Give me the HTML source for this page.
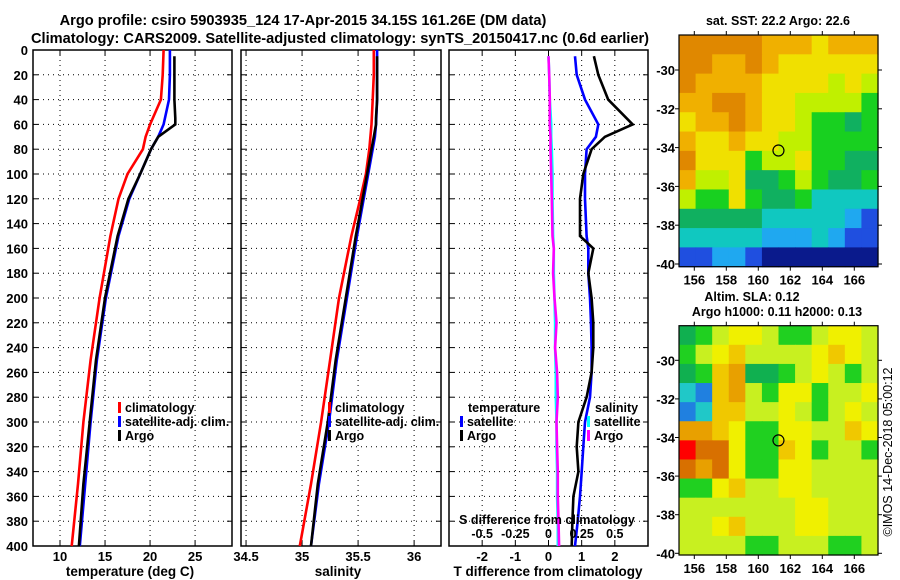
<!DOCTYPE html>
<html><head><meta charset="utf-8">
<style>
html,body{margin:0;padding:0;background:#fff;}
svg{display:block;font-family:"Liberation Sans",sans-serif;font-weight:bold;}
</style></head>
<body>
<svg id="c" width="900" height="580" viewBox="0 0 900 580"></svg>
<script>
// ---------- data ----------
const depthTicks=[0,20,40,60,80,100,120,140,160,180,200,220,240,260,280,300,320,340,360,380,400];
const tTicks=[10,15,20,25];
const sTicks=[34.5,35,35.5,36];
const dtTicks=[-2,-1,0,1,2];
const dsTicks=[-0.5,-0.25,0,0.25,0.5];
const argoDepth=[5,20,40,55,60,70,80,100,120,150,200,250,300,350,400];
const argoT=[22.7,22.7,22.7,22.8,22.8,20.9,20.1,18.9,17.6,16.4,15.0,14.0,13.3,12.6,12.1];
const argoS=[35.67,35.67,35.67,35.66,35.66,35.64,35.62,35.58,35.54,35.48,35.39,35.30,35.23,35.14,35.08];
const climDepth=[0,20,40,60,70,80,100,120,150,200,250,300,350,400];
const climT=[21.5,21.4,21.2,20.0,19.5,19.2,17.5,16.5,15.6,14.4,13.4,12.6,12.0,11.3];
const climS=[35.64,35.64,35.63,35.62,35.61,35.60,35.57,35.52,35.44,35.33,35.25,35.17,35.08,34.98];
const satT=[22.2,22.2,22.1,21.5,20.9,20.1,18.9,17.7,16.5,15.1,14.1,13.4,12.8,12.2];
const satS=[35.67,35.67,35.67,35.66,35.65,35.63,35.59,35.55,35.49,35.40,35.31,35.24,35.15,35.08];
const dDepth=[5,20,40,60,70,80,100,120,150,160,180,200,220,240,260,280,300,320,340,360,380,400];
const argoDT=[1.37,1.5,1.8,2.54,1.7,1.3,1.05,0.95,0.95,1.35,1.2,1.3,1.35,1.35,1.3,1.15,0.9,0.85,0.9,0.75,0.72,0.7];
const satDT=[0.8,0.85,1.1,1.5,1.43,1.15,1.1,1.1,1.15,1.2,1.2,1.25,1.28,1.3,1.3,1.25,1.1,1.05,1.0,0.95,0.88,0.8];
const satDS=[0,0.005,0.01,0.02,0.02,0.025,0.03,0.03,0.035,0.04,0.04,0.045,0.05,0.05,0.055,0.055,0.06,0.06,0.065,0.065,0.07,0.07];
const argoDS=[0,0.005,0.01,0.01,0.015,0.015,0.02,0.025,0.03,0.04,0.035,0.045,0.06,0.05,0.065,0.07,0.06,0.065,0.07,0.07,0.075,0.08];
const lonTicks=[156,158,160,162,164,166];
const latTicks=[-30,-32,-34,-36,-38,-40];
const sstGrid=[
[9,9,9,9,9,8,8,8,7,8,8,8],
[9,9,8,8,9,8,7,7,7,7,7,7],
[9,8,8,8,8,7,7,7,7,6,7,6],
[8,8,9,9,8,7,7,6,6,6,6,5],
[7,8,8,9,8,7,7,6,5,5,4,5],
[8,7,7,8,7,7,6,6,5,5,5,5],
[9,7,7,7,5,6,6,7,5,5,4,4],
[8,6,6,7,4,4,5,6,5,4,4,5],
[6,5,5,7,5,4,4,5,3,3,3,3],
[4,4,4,4,4,3,3,3,3,3,2,1],
[3,3,3,3,3,2,2,2,3,2,1,1],
[1,1,2,2,1,0,0,0,0,0,0,0]];
const slaGrid=[
[2,3,4,5,5,4,3,3,4,5,5,4],
[3,4,5,6,4,4,4,4,5,6,5,4],
[2,3,6,7,2,2,3,4,5,4,3,4],
[1,0,6,7,4,3,5,5,3,4,4,5],
[0,1,6,6,4,4,5,4,3,4,5,4],
[7,7,6,5,3,3,5,5,4,4,6,5],
[9,8,8,5,3,3,6,5,3,4,4,3],
[8,7,8,5,3,3,5,5,4,4,4,4],
[3,3,5,6,4,4,5,5,4,4,4,4],
[4,4,4,4,4,4,4,5,5,4,4,4],
[4,4,5,6,4,4,4,5,5,4,4,4],
[4,4,4,4,3,3,4,4,4,3,3,4]];
const sstColors=["#0a1a8c","#1f4fe0","#1fa8f0","#10c8c0","#10b060","#18d020","#c0f000","#f0e000","#f0b000","#e08800"];
const slaColors=["#2080e0","#20c8c8","#10b050","#20d020","#c8f020","#f0f000","#f0c800","#e8a000","#d87000","#ff0000"];
const floatLon=161.26, floatLat=-34.15;

// ---------- helpers ----------
const svg=document.getElementById('c');
const NS="http://www.w3.org/2000/svg";
function mk(tag,attrs,parent){const e=document.createElementNS(NS,tag);for(const k in attrs)e.setAttribute(k,attrs[k]);(parent||svg).appendChild(e);return e;}
function txt(x,y,s,size,anchor,parent){const t=mk('text',{x:x,y:y,'font-size':size,'text-anchor':anchor||'middle',fill:'#000'},parent);t.textContent=s;return t;}
const Y0=50,Y1=546;
const yD=d=>Y0+d*(Y1-Y0)/400;

function panel(name,x0,x1,dmin,dmax,ticks,fmt){
  const g=mk('g',{});
  
  
  const xs=v=>x0+(v-dmin)*(x1-x0)/(dmax-dmin);
  depthTicks.forEach(d=>{ if(d>0&&d<400) mk('line',{x1:x0,x2:x1,y1:yD(d),y2:yD(d),stroke:'#000','stroke-width':1,'stroke-dasharray':'1,4'},g);
    mk('line',{x1:x0,x2:x0+5,y1:yD(d),y2:yD(d),stroke:'#000'},g);mk('line',{x1:x1-5,x2:x1,y1:yD(d),y2:yD(d),stroke:'#000'},g);});
  ticks.forEach(v=>{const x=xs(v);mk('line',{x1:x,x2:x,y1:Y0,y2:Y1,stroke:'#000','stroke-dasharray':'1,4'},g);
    mk('line',{x1:x,x2:x,y1:Y1,y2:Y1-5,stroke:'#000'},g);mk('line',{x1:x,x2:x,y1:Y0,y2:Y0+5,stroke:'#000'},g);
    if(fmt) txt(x,561,fmt(v),13,'middle',g);});
  mk('rect',{x:x0,y:Y0,width:x1-x0,height:Y1-Y0,fill:'none',stroke:'#000','stroke-width':1.5},g);
  return {g,xs};
}
function line(g,xs,vals,depths,color,name){
  const p=vals.map((v,i)=>xs(v).toFixed(1)+','+yD(depths[i]).toFixed(1)).join(' ');
  const l=mk('polyline',{points:p,fill:'none',stroke:color,'stroke-width':2.6},g);
  
  
}
function legendEntry(g,x,y,color,label,name){
  const e=mk('g',{},g);
  
  
  mk('rect',{x:x,y:y-10,width:3,height:11,fill:color},e);
  txt(x+7,y,label,12.5,'start',e);
}

// titles
const t1=txt(303,25,'Argo profile: csiro 5903935_124 17-Apr-2015 34.15S 161.26E (DM data)',14.6);

const t2=txt(340,43,'Climatology: CARS2009. Satellite-adjusted climatology: synTS_20150417.nc (0.6d earlier)',14.6);


// depth labels
const yl=mk('g',{});
depthTicks.forEach(d=>txt(28,yD(d)+5,String(d),13,'end',yl));

// panel 1 temperature
const P1=panel('temperature-panel',33,232,7,29.1,tTicks,v=>String(v));
line(P1.g,P1.xs,climT,climDepth,'#ff0000','climatology-temperature-line');
line(P1.g,P1.xs,satT,climDepth,'#0000ff','satellite-temperature-line');
line(P1.g,P1.xs,argoT,argoDepth,'#000000','argo-temperature-line');
txt(130,576,'temperature (deg C)',13.5);
legendEntry(P1.g,118,412,'#ff0000','climatology','legend-climatology');
legendEntry(P1.g,118,426,'#0000ff','satellite-adj. clim.','legend-satellite-adj');
legendEntry(P1.g,118,440,'#000000','Argo','legend-argo');

// panel 2 salinity
const P2=panel('salinity-panel',241,441,34.455,36.24,sTicks,v=>String(v));
line(P2.g,P2.xs,climS,climDepth,'#ff0000','climatology-salinity-line');
line(P2.g,P2.xs,satS,climDepth,'#0000ff','satellite-salinity-line');
line(P2.g,P2.xs,argoS,argoDepth,'#000000','argo-salinity-line');
txt(338,576,'salinity',13.5);
legendEntry(P2.g,328,412,'#ff0000','climatology','legend-climatology-s');
legendEntry(P2.g,328,426,'#0000ff','satellite-adj. clim.','legend-satellite-adj-s');
legendEntry(P2.g,328,440,'#000000','Argo','legend-argo-s');

// panel 3 differences
const P3=panel('difference-panel',449,648,-3,3,dtTicks,v=>String(v));
const xsS=v=>P3.xs(v*4);
line(P3.g,xsS,satDS,dDepth,'#00ffff','satellite-salinity-diff-line');
line(P3.g,xsS,argoDS,dDepth,'#ff00ff','argo-salinity-diff-line');
line(P3.g,P3.xs,satDT,dDepth,'#0000ff','satellite-temperature-diff-line');
line(P3.g,P3.xs,argoDT,dDepth,'#000000','argo-temperature-diff-line');
txt(548,576,'T difference from climatology',13.5);
txt(547,524,'S difference from climatology',12.5,'middle',P3.g);
dsTicks.forEach(v=>txt(xsS(v),538,String(v===0?'0':v),12.5,'middle',P3.g));
txt(468,412,'temperature',12.5,'start',P3.g);
legendEntry(P3.g,460,426,'#0000ff','satellite','legend-sat-t');
legendEntry(P3.g,460,440,'#000000','Argo','legend-argo-t');
txt(595,412,'salinity',12.5,'start',P3.g);
mk('rect',{x:587,y:416,width:3,height:11,fill:'#00ffff'},P3.g);
txt(594,426,'satellite',12.5,'start',P3.g);
mk('rect',{x:587,y:430,width:3,height:11,fill:'#ff00ff'},P3.g);
txt(594,440,'Argo',12.5,'start',P3.g);

// maps
function map(name,grid,colors,top,bottom,latTop,lat30y,lat40y){
  const g=mk('g',{});
  
  
  const L=679,R=878;
  const lonX=lon=>694.3+(lon-156)*16;
  const latY=lat=>lat30y+(-30-lat)*(lat40y-lat30y)/10;
  const rows=grid.length,cols=grid[0].length;
  const cw=(R-L)/cols,ch=(bottom-top)/rows;
  grid.forEach((row,r)=>row.forEach((v,c)=>{
    mk('rect',{x:(L+c*cw).toFixed(2),y:(top+r*ch).toFixed(2),width:(cw+0.6).toFixed(2),height:(ch+0.6).toFixed(2),fill:colors[v]},g);
  }));
  mk('rect',{x:L,y:top,width:R-L,height:bottom-top,fill:'none',stroke:'#000','stroke-width':1.2},g);
  lonTicks.forEach(l=>{const x=lonX(l);mk('line',{x1:x,x2:x,y1:bottom,y2:bottom+4,stroke:'#000'},g);mk('line',{x1:x,x2:x,y1:top,y2:top-4,stroke:'#000'},g);
    txt(x,bottom+18,String(l),13,'middle',g);});
  latTicks.forEach(l=>{const y=latY(l);mk('line',{x1:L,x2:L-4,y1:y,y2:y,stroke:'#000'},g);mk('line',{x1:R,x2:R+4,y1:y,y2:y,stroke:'#000'},g);
    txt(675,y+5,String(l),13,'end',g);});
  const m=mk('circle',{cx:lonX(floatLon),cy:latY(floatLat),r:5.5,fill:'none',stroke:'#000','stroke-width':1.2},g);
  
  
  return g;
}
map('sst-map',sstGrid,sstColors,35,266.7,-28.2,70,264);
txt(778,25,'sat. SST: 22.2 Argo: 22.6',12.5);
map('sla-map',slaGrid,slaColors,325.7,555,-28.2,360.3,553.3);
txt(752,301,'Altim. SLA: 0.12',12.5);
txt(777,316,'Argo h1000: 0.11 h2000: 0.13',12.5);
const cp=mk('text',{x:0,y:0,'font-size':12.5,'font-weight':'normal','text-anchor':'middle',transform:'translate(892,452) rotate(-90)'});
cp.textContent='©IMOS 14-Dec-2018 05:00:12';


</script>
</body></html>
